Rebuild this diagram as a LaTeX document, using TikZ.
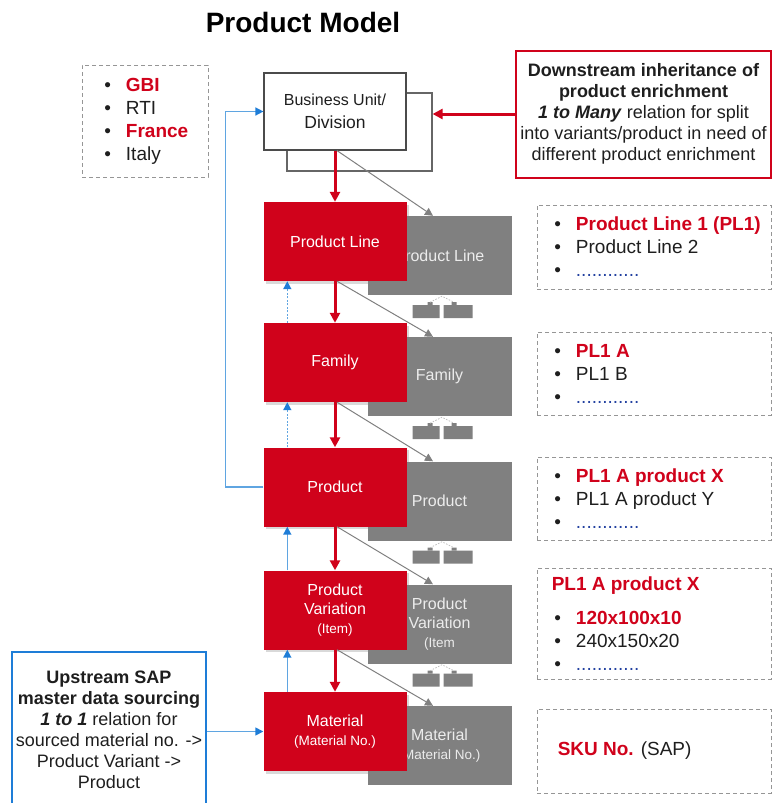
\documentclass[tikz,border=0pt]{standalone}
\usepackage{fontspec}
\setmainfont{Liberation Sans}
\usetikzlibrary{positioning,arrows.meta,shadows}

\definecolor{pmred}{RGB}{208,2,27}
\definecolor{pmgrey}{RGB}{128,128,128}
\definecolor{pmpale}{RGB}{236,236,236}
\definecolor{pmblue}{RGB}{30,125,215}
\definecolor{pmsky}{RGB}{95,165,225}
\definecolor{pmdash}{RGB}{150,150,150}
\definecolor{pmink}{RGB}{30,30,30}
\definecolor{pmdots}{RGB}{35,65,160}

\newcommand{\itm}[1]{\makebox[21.5pt][l]{\textbullet}#1}
\newcommand{\dotrow}{\textcolor{pmdots}{............}}
\newcommand{\smalltxt}{\fontsize{13.5}{16}\selectfont}

\begin{document}
\begin{tikzpicture}[x=1pt,y=-1pt]
  \tikzstyle{level}=[rectangle,fill=pmred,text=white,minimum width=143pt,minimum height=79pt,inner sep=0pt,align=center,font=\fontsize{16}{19}\selectfont,drop shadow={opacity=0.3,shadow xshift=2pt,shadow yshift=-2.5pt}];
  \tikzstyle{greylevel}=[rectangle,fill=pmgrey,text=pmpale,minimum width=144pt,minimum height=79pt,inner sep=0pt,align=center,font=\fontsize{16}{19}\selectfont];
  \tikzstyle{unitbox}=[rectangle,draw=pmink!80,line width=1.2pt,fill=white,minimum width=142pt,minimum height=77pt];
  \tikzstyle{listbox}=[rectangle,draw=pmdash,line width=0.9pt,dash pattern=on 4pt off 3pt,minimum width=234pt,minimum height=84pt];
  \tikzstyle{listtext}=[anchor=west,align=left,inner sep=0pt,text=pmink,font=\fontsize{19}{23}\selectfont];
  \tikzstyle{note}=[rectangle,align=center,inner sep=0pt,text=pmink,font=\fontsize{18}{21}\selectfont];
  \tikzstyle{redarrow}=[pmred,line width=3pt,-{Triangle[length=10pt,width=10pt]}];
  \tikzstyle{greyarrow}=[pmgrey,line width=1pt,-{Triangle[length=8pt,width=8pt]}];
  \tikzstyle{blueup}=[pmsky,line width=1.5pt,-{Triangle[length=8pt,width=8pt,color=pmblue]}];
  \tikzstyle{bluedot}=[blueup,dash pattern=on 2pt off 1.5pt];

  \useasboundingbox (0,0) rectangle (773,803);

  % title
  \node[font=\bfseries\fontsize{28}{32}\selectfont,text=black] (title) at (303,22) {Product Model};

  % grey copies
  \node[greylevel] (gline) at (439.5,255.5) {Product Line};
  \node[greylevel] (gfam) at (439.5,376.5) {Family};
  \node[greylevel] (gprod) at (439.5,501) {Product};
  \node[greylevel] (gvar) at (439.5,624) {Product\\Variation\\{\smalltxt(Item}};
  \node[greylevel] (gmat) at (439.5,745.5) {Material\\{\smalltxt(Material No.)}};

  % split marks
  \foreach \g in {gline,gfam,gprod,gvar} {
    \begin{scope}[shift={(\g.south)}]
      \fill[pmgrey] (-27,10) rectangle (0,23) (4,10) rectangle (33,23);
      \fill[pmgrey] (-12,7) rectangle (-7,10) (12,7) rectangle (17,10);
      \draw[pmdash!60,dash pattern=on 1.5pt off 1.5pt,line width=0.8pt] (-9.5,7) -- (2.5,1) -- (14.5,7);
    \end{scope}
  }

  % business unit
  \node[unitbox,draw=pmgrey!80!black,minimum width=145pt,minimum height=78pt] (buback) at (359.5,132) {};
  \node[unitbox,align=center,text=pmink,font=\fontsize{16}{23}\selectfont] (bu) at (335,111.5) {Business Unit/\\{\fontsize{17.5}{23}\selectfont Division}};

  % levels
  \node[level] (pline) at (335,241.5) {Product Line};
  \node[level] (fam) at (335,362.5) {Family};
  \node[level] (prod) at (335,487) {Product};
  \node[level] (var) at (335,610) {Product\\Variation\\{\smalltxt(Item)}};
  \node[level] (mat) at (335,731.5) {Material\\{\smalltxt(Material No.)}};

  % downstream
  \foreach \a/\b in {bu/pline,pline/fam,fam/prod,prod/var,var/mat}
    \draw[redarrow] (\b.north |- \a.south) -- (\b.north);
  \foreach \a/\b in {bu/gline,pline/gfam,fam/gprod,prod/gvar,var/gmat}
    \draw[greyarrow] ([xshift=2pt]\a.south) -- ([xshift=-6.5pt]\b.north);

  % upstream
  \foreach \a/\b/\p in {fam/pline/bluedot,prod/fam/bluedot,var/prod/blueup,mat/var/blueup}
    \draw[\p] ([xshift=24pt]\a.north west) -- ([xshift=24pt]\b.south west);
  \draw[blueup] (prod.west) -- ++(-38,0) |- (bu.west);

  % notes
  \node[note,draw=pmred,line width=2pt,minimum width=255pt,minimum height=127pt] (down) at (643.5,114)
    {\textbf{Downstream inheritance of}\\\textbf{product enrichment}\\\textbf{\textit{1 to Many}} relation for split\\into variants/product in need of\\different product enrichment};
  \draw[redarrow] (down.west) -- (down.west -| buback.east);
  \node[note,draw=pmblue,line width=2pt,minimum width=194pt,minimum height=156pt] (up) at (109,730)
    {\textbf{Upstream SAP}\\\textbf{master data sourcing}\\\textbf{\textit{1 to 1}} relation for\\sourced material no. ->\\Product Variant ->\\Product};
  \draw[blueup] (up.east |- mat.west) -- (mat.west);

  % lists
  \node[listbox,minimum width=126pt,minimum height=112pt] (orgbox) at (145,121) {};
  \node[listtext] (orglist) at ([xshift=22.7pt]orgbox.west)
    {\itm{\textcolor{pmred}{\textbf{GBI}}}\\\itm{RTI}\\\itm{\textcolor{pmred}{\textbf{France}}}\\\itm{Italy}};
  \node[listbox] (plbox) at (654,247) {};
  \node[listtext] (pllist) at ([xshift=17.7pt]plbox.west)
    {\itm{\textcolor{pmred}{\textbf{Product Line 1 (PL1)}}}\\\itm{Product Line 2}\\\itm{\dotrow}};
  \node[listbox,minimum height=83pt] (fambox) at (654,373.5) {};
  \node[listtext] (famlist) at ([xshift=17.7pt]fambox.west)
    {\itm{\textcolor{pmred}{\textbf{PL1 A}}}\\\itm{PL1 B}\\\itm{\dotrow}};
  \node[listbox,minimum height=83pt] (prodbox) at (654,498.5) {};
  \node[listtext] (prodlist) at ([xshift=17.7pt]prodbox.west)
    {\itm{\textcolor{pmred}{\textbf{PL1 A product X}}}\\\itm{PL1 A product Y}\\\itm{\dotrow}};
  \node[listbox,minimum height=111pt] (varbox) at (654,623.5) {};
  \node[listtext] (varlist) at ([xshift=17.7pt]varbox.west)
    {\hspace*{-2.7pt}\textcolor{pmred}{\textbf{PL1 A product X}}\\[11pt]\itm{\textcolor{pmred}{\textbf{120x100x10}}}\\\itm{240x150x20}\\\itm{\dotrow}};
  \node[listbox] (skubox) at (654,751) {};
  \node[listtext] (skutext) at ([xshift=21pt]skubox.west) {\textcolor{pmred}{\textbf{SKU No.}} (SAP)};
\end{tikzpicture}
\end{document}
